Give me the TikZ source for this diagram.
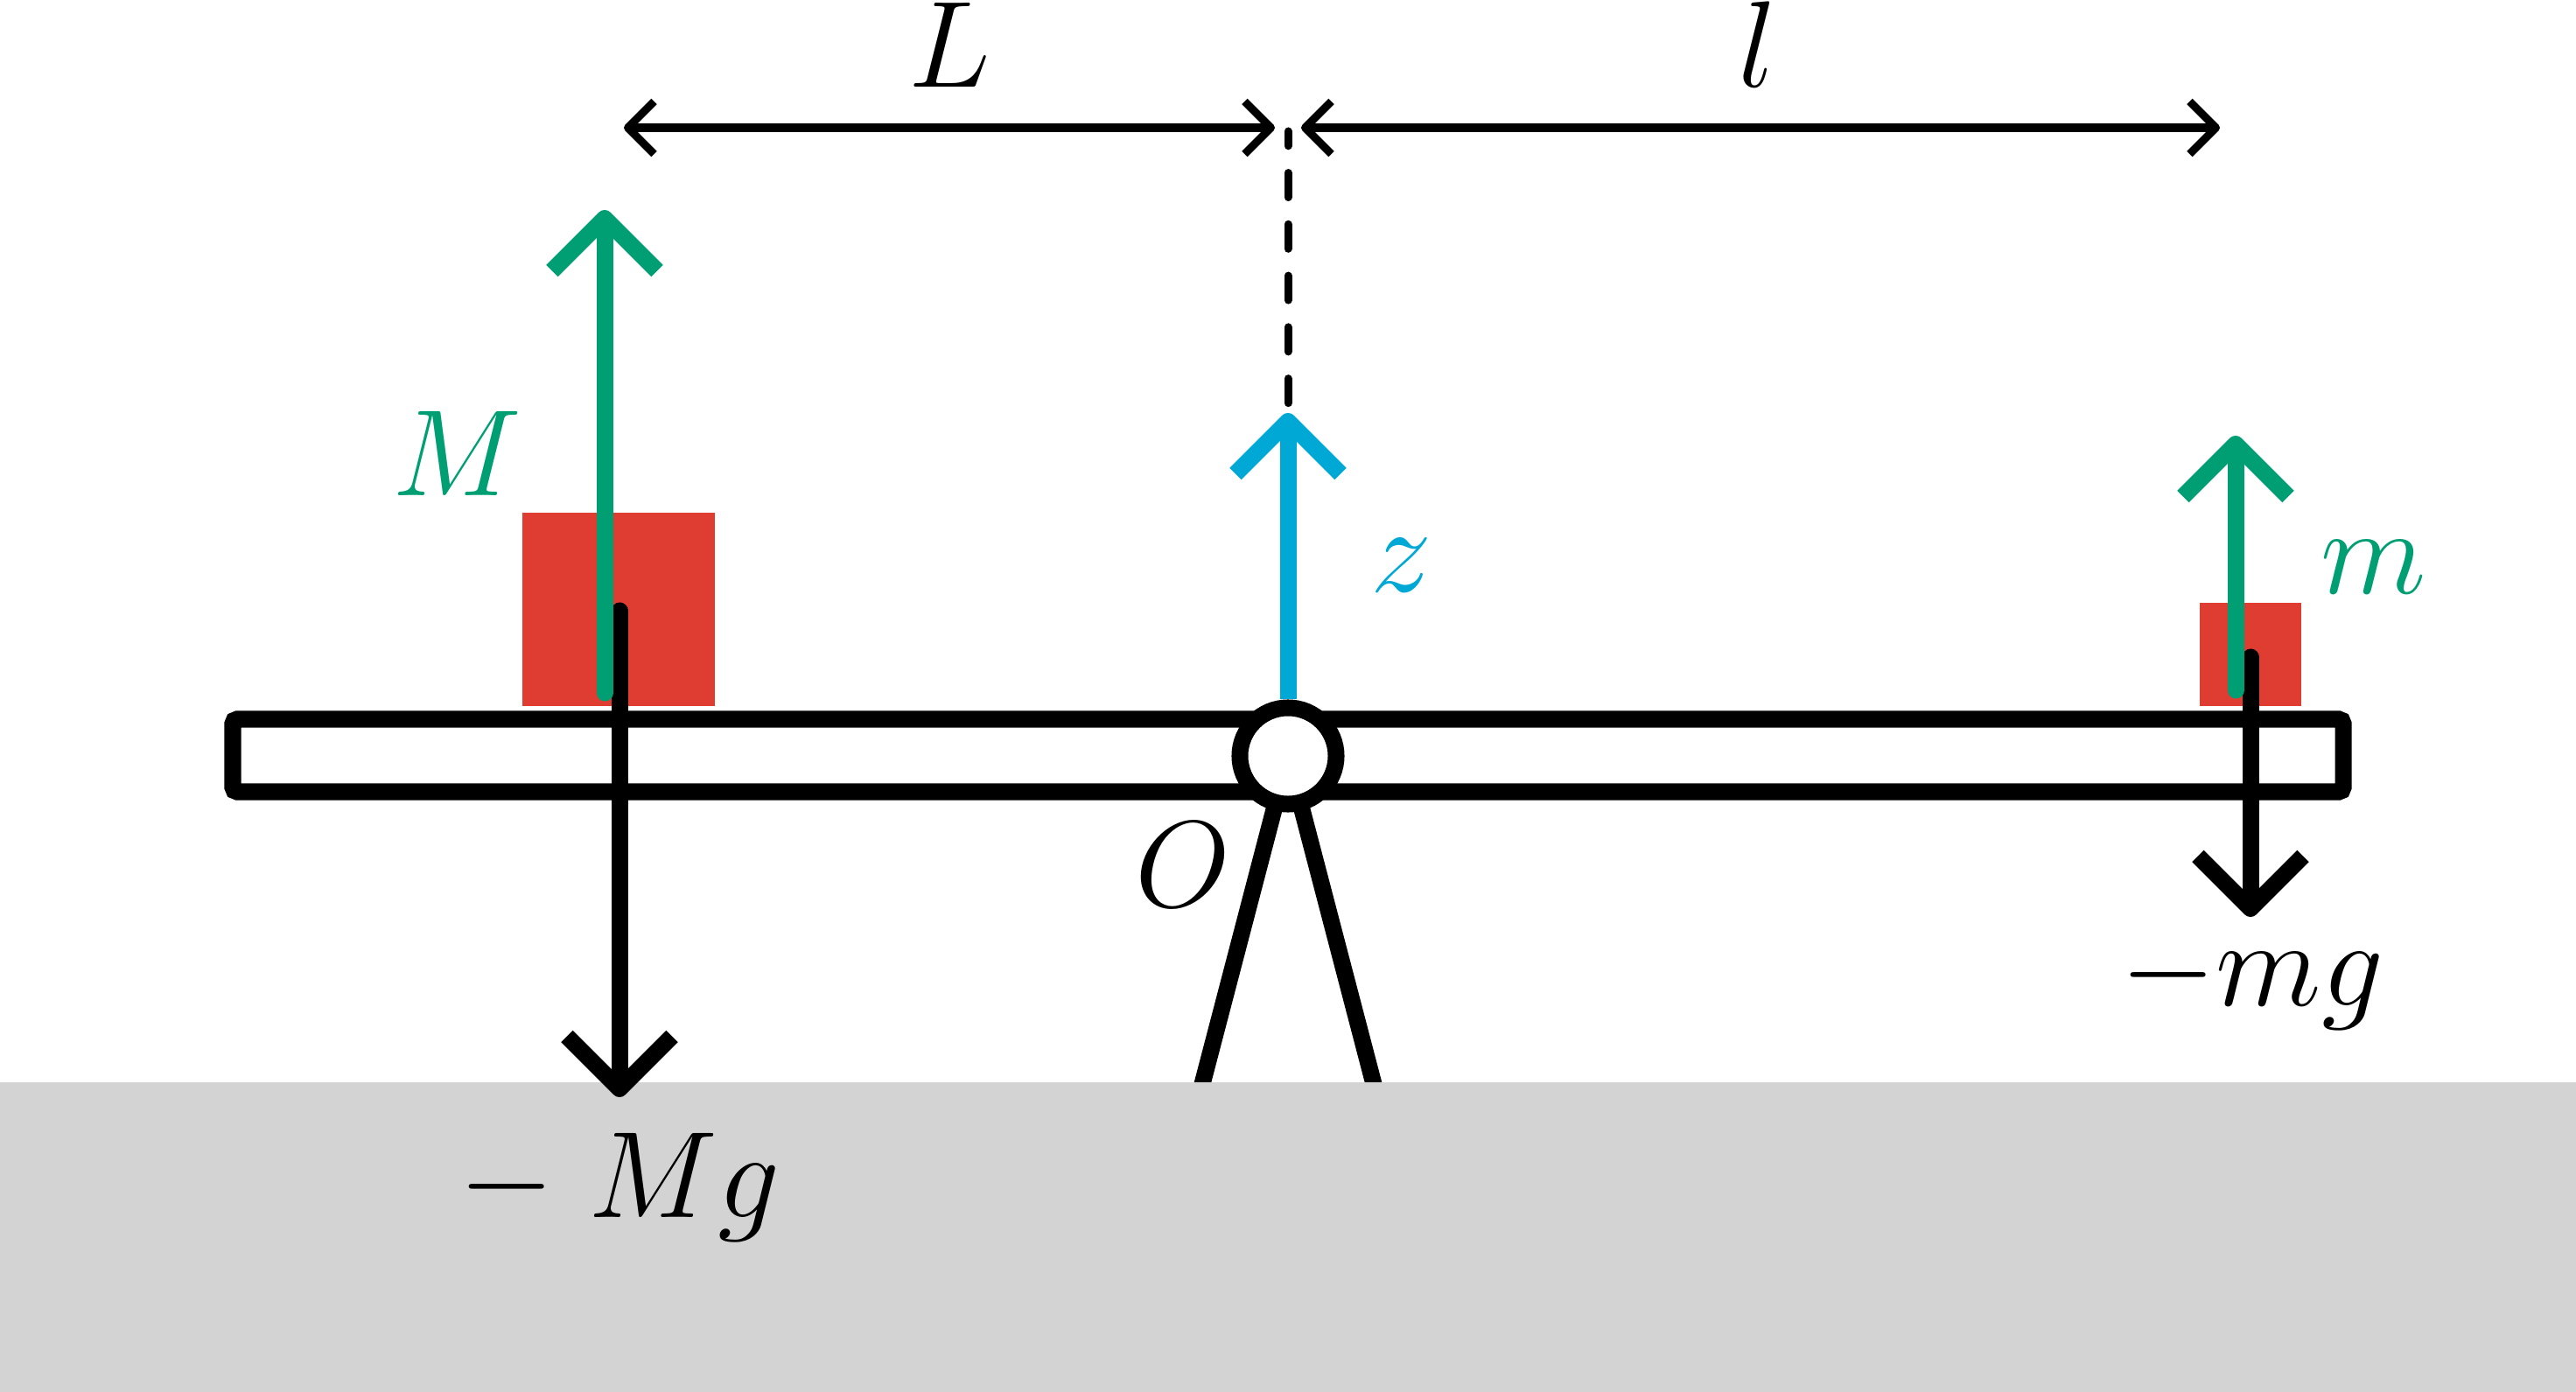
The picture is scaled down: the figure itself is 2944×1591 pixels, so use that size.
\documentclass[tikz,border=0pt]{standalone}
\usetikzlibrary{arrows.meta}
\definecolor{fgreen}{RGB}{0,158,115}
\definecolor{fblue}{RGB}{0,168,214}
\definecolor{fred}{RGB}{224,61,50}
\definecolor{groundgray}{RGB}{211,211,211}
\begin{document}
\begin{tikzpicture}[x=0.01cm,y=-0.01cm,
  heavy/.style={line width=0.19cm},
  thin line/.style={line width=0.09cm},
  barb/.style={-{Straight Barb[length=0.6cm,width=1.2cm,line join=round,line cap=butt]}},
  dimarrow/.style={{Straight Barb[length=0.3cm,width=0.6cm,line join=round,line cap=butt]}-{Straight Barb[length=0.3cm,width=0.6cm,line join=round,line cap=butt]}},
  lbl/.style={anchor=base,inner sep=0pt,scale=3.333,font=\fontsize{12}{14}\selectfont}]
\useasboundingbox (0,0) rectangle (2944,1591);
% coordinates
\coordinate (pc) at (1472,864);
\coordinate (legL) at (1368,1262);
\coordinate (legR) at (1576,1262);
\coordinate (dL1) at (713,146);
\coordinate (dL2) at (1457,146);
\coordinate (dR1) at (1487,146);
\coordinate (dR2) at (2537,146);
\coordinate (dtop) at (1472,150);
\coordinate (dbot) at (1472,466);
\coordinate (ztip) at (1472,472);
\coordinate (gLbot) at (691,792);
\coordinate (gLtip) at (691,240);
\coordinate (kLtop) at (708,698);
\coordinate (kLtip) at (708,1254);
\coordinate (gRbot) at (2555,789);
\coordinate (gRtip) at (2555,498);
\coordinate (kRtop) at (2572,751);
\coordinate (kRtip) at (2572,1048);
% legs of the support
\draw[heavy] (pc) -- (legL);
\draw[heavy] (pc) -- (legR);
% ground
\fill[groundgray] (0,1237) rectangle (2944,1591);
% masses
\fill[fred] (597,586) rectangle (817,807);
\fill[fred] (2514,689) rectangle (2630,807);
% rod
\draw[heavy,fill=white,rounded corners=0.05cm] (266,822) rectangle (2678,905);
% pivot
\node[circle,draw,line width=0.19cm,fill=white,minimum size=1.1cm,inner sep=0pt] (pivot) at (pc) {};
% weights
\draw[heavy,line cap=round,barb] (kLtop) -- (kLtip);
\draw[heavy,line cap=round,barb] (kRtop) -- (kRtip);
% masses arrows
\draw[heavy,fgreen,line cap=round,barb] (gLbot) -- (gLtip);
\draw[heavy,fgreen,line cap=round,barb] (gRbot) -- (gRtip);
% z axis
\draw[heavy,fblue,barb] (pivot.north) -- (ztip);
\draw[thin line,line cap=round,dash pattern=on 0.28cm off 0.3075cm,dash phase=0.1125cm] (dtop) -- (dbot);
% dimensions
\draw[thin line,dimarrow] (dL1) -- (dL2);
\draw[thin line,dimarrow] (dR1) -- (dR2);
% labels
\node[lbl] (labL) at (1085,100) {$L$};
\node[lbl] (labl) at (2009,100) {$l$};
\node[lbl,text=fgreen] (labM) at (522,567) {$M$};
\node[lbl,text=fblue] (labz) at (1602,676) {$z$};
\node[lbl,text=fgreen] (labm) at (2713,678) {$m$};
\node[lbl] (labO) at (1352,1036) {$O$};
\node[lbl] (labmg) at (2574,1149) {$-mg$};
\node[lbl] (labMg) at (708,1391) {$-\;Mg$};
\end{tikzpicture}
\end{document}
